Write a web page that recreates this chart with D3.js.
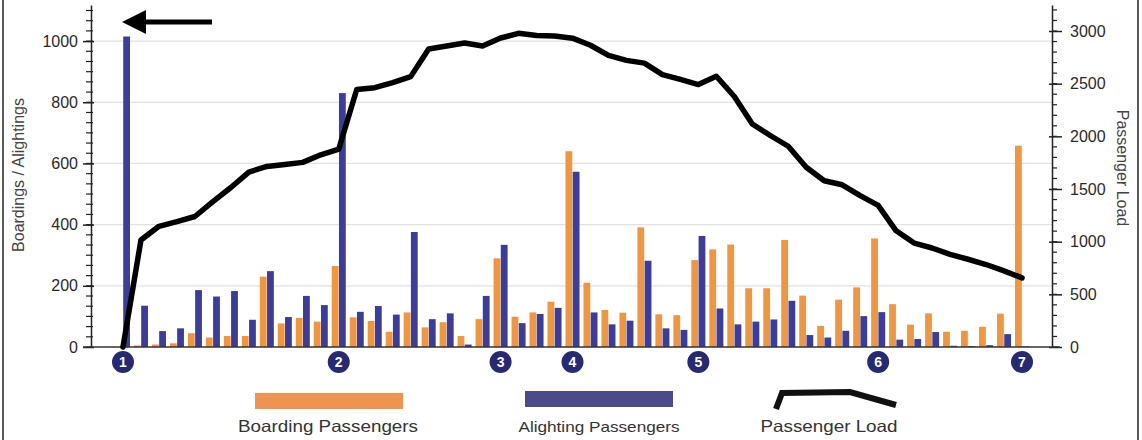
<!DOCTYPE html>
<html>
<head>
<meta charset="utf-8">
<script src="https://cdn.jsdelivr.net/npm/d3@7"></script>
<style>
  html, body { margin: 0; padding: 0; background: #fff; }
  svg { display: block; font-family: "Liberation Sans", Arial, sans-serif; }
</style>
</head>
<body>
<svg id="chart" width="1142" height="440"></svg>
<script>
// ---- data ----
const stops = [1,2,3,4,5,6,7,8,9,10,11,12,13,14,15,16,17,18,19,20,21,22,23,24,25,26,27,28,29,30,31,32,33,34,35,36,37,38,39,40,41,42,43,44,45,46,47,48,49,50,51];
const boarding = [0,5,8,12,45,31,36,36,230,77,95,83,265,97,85,50,113,64,81,36,91,290,99,113,148,640,210,121,112,391,107,104,284,319,335,192,192,350,168,69,155,195,355,140,73,110,50,53,66,109,658];
const alighting = [1015,135,52,61,186,165,183,89,248,98,167,137,830,115,134,106,376,91,110,8,167,334,78,108,128,573,113,74,86,282,61,56,363,126,74,83,90,151,39,31,53,101,114,24,26,49,4,3,6,42,2];
const passengerLoad = [0,1016,1146,1190,1239,1380,1514,1661,1714,1732,1753,1825,1879,2444,2462,2511,2567,2830,2857,2886,2858,2934,2978,2957,2952,2932,2865,2768,2721,2695,2586,2540,2492,2571,2378,2117,2008,1906,1707,1578,1540,1438,1344,1103,987,940,879,833,783,723,656];
const timepointStops = [1,13,22,26,33,43,51];
const timepointLabels = ["1","2","3","4","5","6","7"];
const leftTicks = [0,200,400,600,800,1000];
const rightTicks = [0,500,1000,1500,2000,2500,3000];
const legendLabels = ["Boarding Passengers","Alighting Passengers","Passenger Load"];

const orange = "#ef963f", blue = "#3b3d9c", navy = "#272a72";

const svg = d3.select("#chart");

// ---- scales ----
const x = d3.scaleBand().domain(stops).range([114, 1031]).paddingInner(0.22).paddingOuter(0.11);
const xSub = d3.scaleBand().domain(["b","a"]).range([0, x.bandwidth()]).paddingInner(0.06);
const yL = d3.scaleLinear().domain([0, 1118]).range([347, 5]);
const yR = d3.scaleLinear().domain([0, 3247]).range([347, 5]);
const axL = 91, axR = 1052;

// frame lines
svg.append("line").attr("x1",3).attr("x2",3).attr("y1",0).attr("y2",440).attr("stroke","#222").attr("stroke-width",1.5);
svg.append("line").attr("x1",1138).attr("x2",1138).attr("y1",0).attr("y2",440).attr("stroke","#222").attr("stroke-width",1.5);

// gridlines
svg.append("g").selectAll("line").data(leftTicks.filter(d => d > 0)).join("line")
  .attr("x1", axL).attr("x2", axR).attr("y1", d => yL(d)).attr("y2", d => yL(d))
  .attr("stroke", "#e2e2e2").attr("stroke-width", 1.2);

// bars
const g = svg.append("g");
g.selectAll("rect.b").data(stops).join("rect").attr("class","b")
  .attr("x", (d) => x(d) + xSub("b")).attr("width", xSub.bandwidth())
  .attr("y", (d,i) => yL(boarding[i])).attr("height", (d,i) => yL(0) - yL(boarding[i]))
  .attr("fill", orange);
g.selectAll("rect.a").data(stops).join("rect").attr("class","a")
  .attr("x", (d) => x(d) + xSub("a")).attr("width", xSub.bandwidth())
  .attr("y", (d,i) => yL(alighting[i])).attr("height", (d,i) => yL(0) - yL(alighting[i]))
  .attr("fill", blue);

// minor ticks
const minorL = d3.range(0, 34).map(k => k * 100 / 3);
const minorR = d3.range(0, 33).map(k => k * 100);
svg.append("g").selectAll("line").data(minorL).join("line")
  .attr("x1", axL - 5).attr("x2", axL + 2).attr("y1", d => yL(d)).attr("y2", d => yL(d))
  .attr("stroke", "#222").attr("stroke-width", 1.2);
svg.append("g").selectAll("line").data(minorR).join("line")
  .attr("x1", axR).attr("x2", axR + 5).attr("y1", d => yR(d)).attr("y2", d => yR(d))
  .attr("stroke", "#222").attr("stroke-width", 1.2);

// axes
const fmt = d3.format("d");
const gL = svg.append("g").attr("transform", `translate(${axL},0)`)
  .call(d3.axisLeft(yL).tickValues(leftTicks).tickFormat(fmt).tickSize(8).tickSizeOuter(0).tickPadding(5));
gL.selectAll(".tick line").attr("x1", 3);
const gR = svg.append("g").attr("transform", `translate(${axR},0)`)
  .call(d3.axisRight(yR).tickValues(rightTicks).tickFormat(fmt).tickSize(10).tickSizeOuter(0).tickPadding(8));
gR.selectAll(".tick line").attr("x1", -3);
[gL, gR].forEach(a => {
  a.select(".domain").attr("stroke", "#222").attr("stroke-width", 1.5);
  a.selectAll(".tick line").attr("stroke", "#222").attr("stroke-width", 1.5);
  a.selectAll(".tick text").attr("font-size", 16).attr("fill", "#2a2a2a")
    .attr("font-family", "'Liberation Sans', Arial, sans-serif");
});

// baseline
svg.append("line").attr("x1", axL - 8).attr("x2", axR + 8).attr("y1", yL(0)).attr("y2", yL(0))
  .attr("stroke", "#333").attr("stroke-width", 1.5);

// passenger load line
const line = d3.line().x((d,i) => x(stops[i]) + x.bandwidth()/2).y(d => yR(d));
svg.append("path").datum(passengerLoad).attr("d", line)
  .attr("fill", "none").attr("stroke", "#000").attr("stroke-width", 5.5)
  .attr("stroke-linejoin", "round").attr("stroke-linecap", "round");

// timepoint markers
const tp = svg.append("g").selectAll("g").data(timepointStops).join("g")
  .attr("transform", d => `translate(${x(d) + x.bandwidth()/2},362)`);
tp.append("circle").attr("r", 11).attr("fill", navy);
tp.append("text").text((d,i) => timepointLabels[i]).attr("text-anchor","middle").attr("dy", 5)
  .attr("fill", "#fff").attr("font-size", 14).attr("font-weight", "bold");

// direction arrow
svg.append("line").attr("x1", 212).attr("x2", 140).attr("y1", 22).attr("y2", 22)
  .attr("stroke", "#000").attr("stroke-width", 5);
svg.append("path").attr("d", "M122,22 L146,10 L146,34 Z").attr("fill", "#000");

// axis titles
svg.append("text").attr("transform", "translate(24,175) rotate(-90)").attr("text-anchor","middle")
  .attr("font-size", 16).attr("fill", "#444").text("Boardings / Alightings");
svg.append("text").attr("transform", "translate(1117,168) rotate(90)").attr("text-anchor","middle")
  .attr("font-size", 16).attr("fill", "#444").text("Passenger Load");

// legend
svg.append("rect").attr("x", 255).attr("y", 393).attr("width", 148).attr("height", 16).attr("fill", "#ee9450");
svg.append("rect").attr("x", 525).attr("y", 391).attr("width", 148).attr("height", 16).attr("fill", "#4b4a8a");
svg.append("path").attr("d", "M776,409 L782,393 L850,392 L896,405")
  .attr("fill", "none").attr("stroke", "#111").attr("stroke-width", 6).attr("stroke-linejoin", "miter");
const legX = [328, 599, 829], legW = [180, 161, 137], legFS = [16.5, 15, 16.5];
svg.append("g").selectAll("text").data(legendLabels).join("text")
  .attr("x", (d,i) => legX[i]).attr("y", 432).attr("text-anchor", "middle")
  .attr("font-size", (d,i) => legFS[i]).attr("fill", "#333")
  .attr("textLength", (d,i) => legW[i]).attr("lengthAdjust", "spacingAndGlyphs")
  .text(d => d);
</script>
</body>
</html>
